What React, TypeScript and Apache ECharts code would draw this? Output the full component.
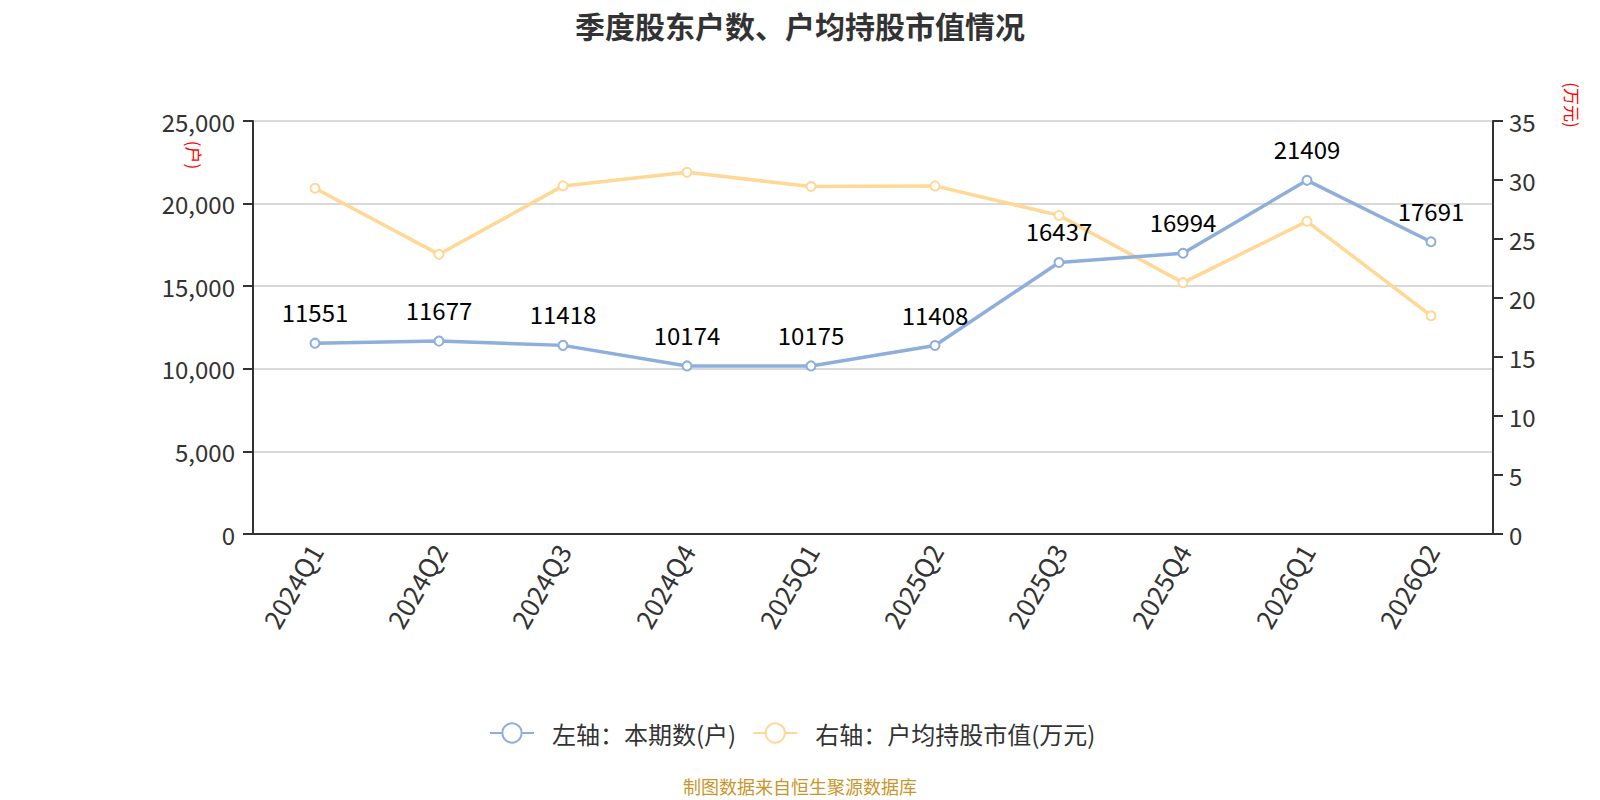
import React, { useEffect, useRef } from "react";
import * as echarts from "echarts";

const categories = ["2024Q1", "2024Q2", "2024Q3", "2024Q4", "2025Q1", "2025Q2", "2025Q3", "2025Q4", "2026Q1", "2026Q2"];
const holders = [11551, 11677, 11418, 10174, 10175, 11408, 16437, 16994, 21409, 17691];
const avgValue = [29.3, 23.7, 29.5, 30.65, 29.45, 29.5, 27.0, 21.3, 26.5, 18.5];
const leftTicks = { min: 0, max: 25000, interval: 5000 };
const rightTicks = { min: 0, max: 35, interval: 5 };

const FONT = "'Noto Sans CJK SC', 'Noto Sans', sans-serif";

export default function App() {
  const ref = useRef<HTMLDivElement>(null);
  useEffect(() => {
    if (!ref.current) return;
    const chart = echarts.init(ref.current, undefined, { renderer: "svg" });
    chart.setOption({
      animation: false,
      textStyle: { fontFamily: FONT },
      title: {
        text: "季度股东户数、户均持股市值情况",
        left: "center",
        top: 5,
        textStyle: { fontSize: 30, fontWeight: "bold", color: "#333", fontFamily: FONT },
      },
      legend: {
        bottom: 50,
        left: 484,
        itemWidth: 44,
        itemHeight: 24,
        itemGap: 16,
        textStyle: { fontSize: 24, color: "#333", fontFamily: FONT, padding: [0, 0, 0, 13] },
        data: ["左轴：本期数(户)", "右轴：户均持股市值(万元)"],
      },
      grid: { left: 253, right: 107, top: 121, bottom: 266, containLabel: false },
      xAxis: {
        type: "category",
        data: categories,
        boundaryGap: true,
        axisLine: { lineStyle: { color: "#333", width: 2 } },
        axisTick: { length: 9, lineStyle: { color: "#333", width: 2 } },
        axisLabel: { rotate: 60, fontSize: 26, color: "#333", margin: 12 },
      },
      yAxis: [
        {
          type: "value",
          min: leftTicks.min,
          max: leftTicks.max,
          interval: leftTicks.interval,
          axisLine: { show: true, lineStyle: { color: "#333", width: 2 } },
          axisTick: { show: true, length: 10, lineStyle: { color: "#333", width: 2 } },
          axisLabel: {
            fontSize: 24,
            color: "#333",
            margin: 18,
            formatter: (v: number) => v.toLocaleString("en-US"),
          },
          splitLine: { show: true, lineStyle: { color: "#ccc", width: 1.5 } },
        },
        {
          type: "value",
          min: rightTicks.min,
          max: rightTicks.max,
          interval: rightTicks.interval,
          axisLine: { show: true, lineStyle: { color: "#333", width: 2 } },
          axisTick: { show: true, length: 10, lineStyle: { color: "#333", width: 2 } },
          axisLabel: { fontSize: 24, color: "#333", margin: 16 },
          splitLine: { show: false },
        },
      ],
      graphic: [
        {
          type: "text",
          x: 194,
          y: 155,
          rotation: -Math.PI / 2,
          style: { text: "(户)", fill: "#ff0000", fontSize: 17, fontFamily: FONT, align: "center", verticalAlign: "middle" },
        },
        {
          type: "text",
          x: 1572,
          y: 105,
          rotation: -Math.PI / 2,
          style: { text: "(万元)", fill: "#ff0000", fontSize: 17, fontFamily: FONT, align: "center", verticalAlign: "middle" },
        },
        {
          type: "text",
          left: "center",
          top: 777,
          style: { text: "制图数据来自恒生聚源数据库", fill: "#c8962a", fontSize: 18, fontFamily: FONT },
        },
      ],
      series: [
        {
          name: "左轴：本期数(户)",
          type: "line",
          yAxisIndex: 0,
          data: holders,
          symbol: "emptyCircle",
          symbolSize: 9,
          lineStyle: { color: "#8eaedb", width: 3.5 },
          itemStyle: { color: "#8eaedb", borderWidth: 1.5 },
          label: { show: true, position: "top", distance: 14, fontSize: 24, color: "#000" },
          z: 3,
        },
        {
          name: "右轴：户均持股市值(万元)",
          type: "line",
          yAxisIndex: 1,
          data: avgValue,
          symbol: "emptyCircle",
          symbolSize: 9,
          lineStyle: { color: "#ffd896", width: 3.5 },
          itemStyle: { color: "#ffd896", borderWidth: 1.5 },
          label: { show: false },
          z: 2,
        },
      ],
    });
    return () => chart.dispose();
  }, []);
  return <div ref={ref} style={{ position: "absolute", left: 0, top: 0, width: 1600, height: 800 }} />;
}
